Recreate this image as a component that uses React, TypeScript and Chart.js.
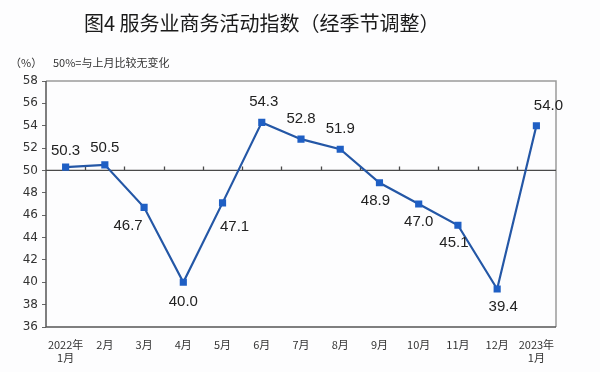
import React, { useEffect, useRef } from "react";
import { Chart, registerables } from "chart.js";

Chart.register(...registerables);

const categories: (string | string[])[] = [
  ["2022年", "1月"], "2月", "3月", "4月", "5月", "6月", "7月", "8月", "9月", "10月", "11月", "12月", ["2023年", "1月"],
];
const values = [50.3, 50.5, 46.7, 40.0, 47.1, 54.3, 52.8, 51.9, 48.9, 47.0, 45.1, 39.4, 54.0];
const yTicks = [36, 38, 40, 42, 44, 46, 48, 50, 52, 54, 56, 58];
const title = "图4 服务业商务活动指数（经季节调整）";
const unitLabel = "（%）";
const note = "50%=与上月比较无变化";
// label offsets (dx, dy) in pixels relative to each point
const labelOffsets: [number, number][] = [
  [0, -16], [0, -17], [-16, 19], [0, 20], [12, 24], [2, -21], [0, -20], [0, -20], [-4, 18], [0, 18], [-4, 18], [6, 18], [12, -20],
];

const FONT = "'Noto Sans CJK SC', 'Noto Sans', sans-serif";

export default function App() {
  const ref = useRef<HTMLCanvasElement>(null);
  useEffect(() => {
    if (!ref.current) return;
    const decor = {
      id: "decor",
      beforeDatasetsDraw(chart: any) {
        const { ctx, chartArea: a, scales } = chart;
        ctx.save();
        ctx.strokeStyle = "#9a9a9a";
        ctx.lineWidth = 1.5;
        ctx.beginPath();
        ctx.moveTo(a.left, a.top);
        ctx.lineTo(a.right, a.top);
        ctx.lineTo(a.right, a.bottom);
        ctx.stroke();
        ctx.strokeStyle = "#555";
        ctx.beginPath();
        ctx.moveTo(a.left, a.top);
        ctx.lineTo(a.left, a.bottom);
        ctx.lineTo(a.right, a.bottom);
        ctx.stroke();
        const y50 = scales.y.getPixelForValue(50);
        ctx.strokeStyle = "#4a4a4a";
        ctx.lineWidth = 1.3;
        ctx.beginPath();
        ctx.moveTo(a.left, y50);
        ctx.lineTo(a.right, y50);
        const n = values.length;
        const w = (a.right - a.left) / n;
        for (let i = 1; i < n; i++) {
          const x = Math.round(a.left + i * w) + 0.5;
          ctx.moveTo(x, y50);
          ctx.lineTo(x, y50 - 4);
        }
        ctx.stroke();
        ctx.restore();
      },
      afterDraw(chart: any) {
        const { ctx } = chart;
        ctx.save();
        ctx.fillStyle = "#1a1a1a";
        ctx.textBaseline = "middle";
        ctx.textAlign = "left";
        ctx.font = `20px ${FONT}`;
        ctx.fillText(title, 84, 23);
        ctx.font = `11px ${FONT}`;
        ctx.fillStyle = "#333";
        ctx.fillText(unitLabel, 10, 63);
        ctx.fillText(note, 53, 63);
        const meta = chart.getDatasetMeta(0);
        ctx.font = `15px 'Liberation Sans', 'DejaVu Sans', sans-serif`;
        ctx.fillStyle = "#222";
        ctx.textAlign = "center";
        meta.data.forEach((pt: any, i: number) => {
          const [dx, dy] = labelOffsets[i];
          ctx.fillText(values[i].toFixed(1), pt.x + dx, pt.y + dy);
        });
        ctx.restore();
      },
    };
    const chart = new Chart(ref.current, {
      type: "line",
      data: {
        labels: categories,
        datasets: [
          {
            data: values,
            borderColor: "#2457a6",
            borderWidth: 2.2,
            pointStyle: "rect",
            pointRadius: 3.5,
            pointBackgroundColor: "#1f5fc4",
            pointBorderColor: "#1f5fc4",
            tension: 0,
          },
        ],
      },
      options: {
        animation: false,
        responsive: false,
        layout: { padding: { top: 81, right: 44, left: 0, bottom: 0 } },
        plugins: { legend: { display: false }, tooltip: { enabled: false } },
        scales: {
          x: {
            offset: true,
            border: { display: false },
            grid: { display: false },
            ticks: {
              maxRotation: 0,
              autoSkip: false,
              color: "#333",
              font: { size: 11, family: FONT },
              padding: 3,
            },
            afterFit: (s: any) => { s.height = 45; },
          },
          y: {
            min: 36,
            max: 58,
            border: { display: false },
            grid: { drawOnChartArea: false, drawTicks: true, tickLength: 4, color: "#666" },
            afterBuildTicks: (s: any) => { s.ticks = yTicks.map((v) => ({ value: v })); },
            ticks: {
              color: "#333",
              font: { size: 12, family: "'DejaVu Sans', sans-serif" },
              padding: 4,
            },
            afterFit: (s: any) => { s.width = 46; },
          },
        },
      },
      plugins: [decor],
    });
    return () => chart.destroy();
  }, []);
  return (
    <div style={{ position: "fixed", left: 0, top: 0, width: 600, height: 372, background: "#fdfdfe" }}>
      <canvas ref={ref} width={600} height={372} />
    </div>
  );
}
